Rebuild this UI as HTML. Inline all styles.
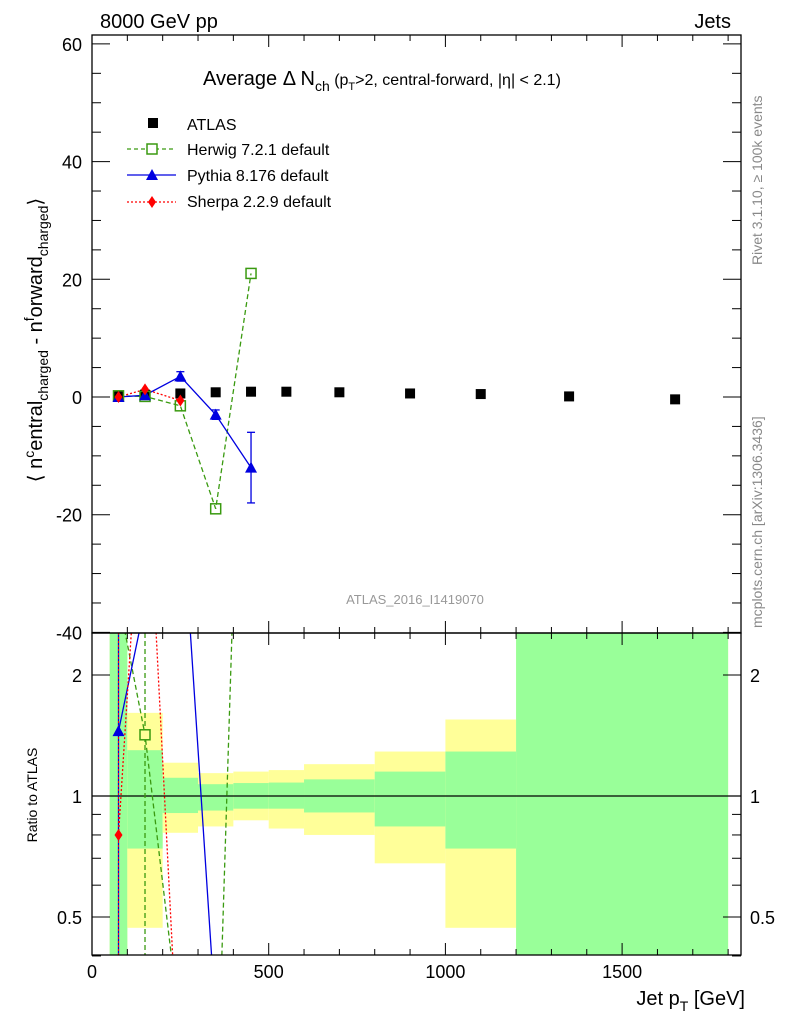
<!DOCTYPE html>
<html><head><meta charset="utf-8"><style>
html,body{margin:0;background:#fff;width:786px;height:1024px;overflow:hidden;}
svg{font-family:"Liberation Sans",sans-serif;display:block;}
</style></head><body>
<svg id="chart" width="786" height="1024" viewBox="0 0 786 1024">
<defs>
<clipPath id="cm"><rect x="92" y="35" width="649" height="598"/></clipPath>
<clipPath id="cr"><rect x="92" y="633" width="649" height="322"/></clipPath>
</defs>
<g id="bands" clip-path="url(#cr)"></g>
<g id="marks"></g>
<g id="axes"></g>
<text x="100" y="28" font-size="20">8000 GeV pp</text>
<text x="731" y="28" font-size="20" text-anchor="end">Jets</text>
<text x="203" y="85" font-size="20">Average Δ N<tspan font-size="14" dy="6">ch</tspan><tspan font-size="16" dy="-6"> (p</tspan><tspan font-size="11" dy="5">T</tspan><tspan font-size="16" dy="-5">&gt;2, central-forward, |η| &lt; 2.1)</tspan></text>
<g>
<rect x="148" y="118" width="10" height="10" fill="#000"/>
<text x="187" y="130" font-size="16">ATLAS</text>
<line x1="127" y1="149" x2="176" y2="149" stroke="#3a9a10" stroke-width="1.3" stroke-dasharray="4,3"/>
<rect x="147" y="144" width="10" height="10" fill="#fff" stroke="#3a9a10" stroke-width="1.5"/>
<text x="187" y="155" font-size="16">Herwig 7.2.1 default</text>
<line x1="127" y1="175" x2="176" y2="175" stroke="#0000e0" stroke-width="1.3"/>
<polygon points="152,169 158,180 146,180" fill="#0000e0"/>
<text x="187" y="181" font-size="16">Pythia 8.176 default</text>
<line x1="127" y1="202" x2="176" y2="202" stroke="#f00" stroke-width="1.3" stroke-dasharray="2,2"/>
<polygon points="152,196 156,202 152,208 148,202" fill="#f00"/>
<text x="187" y="207" font-size="16">Sherpa 2.2.9 default</text>
</g>
<text x="415" y="604" font-size="13" fill="#999" text-anchor="middle">ATLAS_2016_I1419070</text>
<text transform="translate(762,265) rotate(-90)" font-size="14" fill="#888">Rivet 3.1.10, ≥ 100k events</text>
<text transform="translate(762,628) rotate(-90)" font-size="14" fill="#888">mcplots.cern.ch [arXiv:1306.3436]</text>
<text transform="translate(42,340) rotate(-90)" font-size="20" text-anchor="middle">⟨ n<tspan font-size="14" dy="-8">c</tspan><tspan dy="8">entral</tspan><tspan font-size="14" dy="6">charged</tspan><tspan dy="-6"> - n</tspan><tspan font-size="14" dy="-8">f</tspan><tspan dy="8">orward</tspan><tspan font-size="14" dy="6">charged</tspan><tspan dy="-6">⟩</tspan></text>
<text transform="translate(37,795) rotate(-90)" font-size="14" text-anchor="middle">Ratio to ATLAS</text>
<text x="745" y="1005" font-size="20" text-anchor="end">Jet p<tspan font-size="14" dy="6">T</tspan><tspan dy="-6"> [GeV]</tspan></text>
</svg>
<script>
const binEdges=[50,100,200,300,400,500,600,800,1000,1200,1800];
const greenLo=[0.1,0.74,0.907,0.92,0.93,0.93,0.91,0.84,0.74,0.1];
const greenHi=[10,1.30,1.11,1.07,1.077,1.08,1.10,1.15,1.29,10];
const yellowLo=[0.1,0.47,0.81,0.84,0.87,0.83,0.80,0.68,0.47,0.1];
const yellowHi=[10,1.61,1.21,1.14,1.15,1.16,1.20,1.29,1.55,10];
const atlasX=[75,150,250,350,450,550,700,900,1100,1350,1650];
const atlasY=[0.2,0.4,0.6,0.8,0.9,0.9,0.8,0.6,0.5,0.1,-0.4];
const mcX=[75,150,250,350,450];
const herwigY=[0.2,0.1,-1.5,-19,21];
const pythiaY=[0,0.3,3.5,-3,-12];
const pythiaErr=[0,0.3,0.8,0.8,6];
const sherpaX=[75,150,250];
const sherpaY=[0,1.3,-0.6];
const herwigR=[3.1,1.42,0.26,0.13,83];
const pythiaR=[1.45,3.0,6.1,0.28,0.05];
const sherpaR=[0.8,8.8,0.17];
const xTicks=[0,500,1000,1500];
const yTicks=[-40,-20,0,20,40,60];
const rTicks=[0.5,1,2];

const X=v=>92+v*(176.7/500);
const Y=v=>397-v*(117.7/20);
const R=v=>796-Math.log2(v)*121;
const NS='http://www.w3.org/2000/svg';
function mk(p,t,a){const e=document.createElementNS(NS,t);for(const k in a)e.setAttribute(k,a[k]);p.appendChild(e);return e;}
const B=document.getElementById('bands'),M=document.getElementById('marks'),A=document.getElementById('axes');
for(let i=0;i<greenLo.length;i++){
 const x0=X(binEdges[i]),x1=X(binEdges[i+1]);
 const y=mk(B,'rect',{x:x0,y:R(yellowHi[i]),width:x1-x0,height:R(yellowLo[i])-R(yellowHi[i]),fill:'#ffff99'});
 
 
 const g=mk(B,'rect',{x:x0,y:R(greenHi[i]),width:x1-x0,height:R(greenLo[i])-R(greenHi[i]),fill:'#99ff99'});
 
 
}
mk(B,'line',{x1:92,x2:741,y1:R(1),y2:R(1),stroke:'#000','stroke-width':1.2});
const gm=mk(M,'g',{'clip-path':'url(#cm)'}),gr=mk(M,'g',{'clip-path':'url(#cr)'});
function line(p,xs,ys,f,col,dash){const pts=xs.map((x,i)=>X(x)+','+f(ys[i])).join(' ');const e=mk(p,'polyline',{points:pts,fill:'none',stroke:col,'stroke-width':1.3,'stroke-dasharray':dash});return e;}
let e;
e=line(gm,mcX,herwigY,Y,'#3a9a10','5,3');
e=line(gm,mcX,pythiaY,Y,'#0000e0','none');
e=line(gm,sherpaX,sherpaY,Y,'#f00','2,2');
e=line(gr,mcX,herwigR,R,'#3a9a10','5,3');
e=line(gr,mcX,pythiaR,R,'#0000e0','none');
e=line(gr,sherpaX,sherpaR,R,'#f00','2,2');
atlasX.forEach((x,i)=>{const r=mk(gm,'rect',{x:X(x)-5,y:Y(atlasY[i])-5,width:10,height:10,fill:'#000'});
 
 });
mcX.forEach((x,i)=>{const r=mk(gm,'rect',{x:X(x)-5,y:Y(herwigY[i])-5,width:10,height:10,fill:'none',stroke:'#3a9a10','stroke-width':1.5});
 
 
 const cx=X(x),cy=Y(pythiaY[i]);
 if(pythiaErr[i]>0.5){mk(gm,'line',{x1:cx,x2:cx,y1:Y(pythiaY[i]+pythiaErr[i]),y2:Y(pythiaY[i]-pythiaErr[i]),stroke:'#0000e0','stroke-width':1.3});
  mk(gm,'line',{x1:cx-4,x2:cx+4,y1:Y(pythiaY[i]+pythiaErr[i]),y2:Y(pythiaY[i]+pythiaErr[i]),stroke:'#0000e0','stroke-width':1.3});
  mk(gm,'line',{x1:cx-4,x2:cx+4,y1:Y(pythiaY[i]-pythiaErr[i]),y2:Y(pythiaY[i]-pythiaErr[i]),stroke:'#0000e0','stroke-width':1.3});}
 const p=mk(gm,'polygon',{points:`${cx},${cy-6} ${cx+6},${cy+5} ${cx-6},${cy+5}`,fill:'#0000e0'});
 
 });
sherpaX.forEach((x,i)=>{const cx=X(x),cy=Y(sherpaY[i]);
 const p=mk(gm,'polygon',{points:`${cx},${cy-6} ${cx+4},${cy} ${cx},${cy+6} ${cx-4},${cy}`,fill:'#f00'});
 
 });
// ratio markers
{const cx=X(mcX[1]),cy=R(herwigR[1]);mk(gr,'line',{x1:cx,x2:cx,y1:633,y2:955,stroke:'#3a9a10','stroke-width':1.3,'stroke-dasharray':'5,3'});mk(gr,'rect',{x:cx-5,y:cy-5,width:10,height:10,fill:'#ffff99',stroke:'#3a9a10','stroke-width':1.5});}
{const cx=X(mcX[0]),cy=R(pythiaR[0]);mk(gr,'line',{x1:cx,x2:cx,y1:633,y2:955,stroke:'#0000e0','stroke-width':1.3});mk(gr,'line',{x1:cx,x2:cx,y1:633,y2:955,stroke:'#f00','stroke-width':1,'stroke-dasharray':'2,2'});mk(gr,'polygon',{points:`${cx},${cy-6} ${cx+6},${cy+5} ${cx-6},${cy+5}`,fill:'#0000e0'});}
{const cx=X(sherpaX[0]),cy=R(sherpaR[0]);mk(gr,'polygon',{points:`${cx},${cy-6} ${cx+4},${cy} ${cx},${cy+6} ${cx-4},${cy}`,fill:'#f00'});}
// frames
mk(A,'rect',{x:92,y:35,width:649,height:598,fill:'none',stroke:'#000','stroke-width':1.3});
mk(A,'rect',{x:92,y:633,width:649,height:322,fill:'none',stroke:'#000','stroke-width':1.3});
for(let v=0;v<=1800;v+=100){const x=X(v),big=v%500===0;
 [[35,1],[633,1],[633,-1],[955,-1]].forEach(([y,d])=>mk(A,'line',{x1:x,x2:x,y1:y,y2:y+d*(big?12:6),stroke:'#000'}));}
xTicks.forEach(v=>{const t=mk(A,'text',{x:X(v),y:978,'font-size':18,'text-anchor':'middle'});t.textContent=v;
 
 });
for(let v=-40;v<=60;v+=5){const y=Y(v),big=v%20===0;
 mk(A,'line',{x1:92,x2:92+(big?18:9),y1:y,y2:y,stroke:'#000'});
 mk(A,'line',{x1:741,x2:741-(big?18:9),y1:y,y2:y,stroke:'#000'});}
yTicks.forEach(v=>{const t=mk(A,'text',{x:82,y:Y(v)+7,'font-size':18,'text-anchor':'end',fill:'#000'});t.textContent=v;
 
 });
[0.4,0.5,0.6,0.7,0.8,0.9,1,2].forEach(v=>{const y=R(v),big=(v===0.5||v===1||v===2);
 mk(A,'line',{x1:92,x2:92+(big?18:9),y1:y,y2:y,stroke:'#000'});
 mk(A,'line',{x1:741,x2:741-(big?18:9),y1:y,y2:y,stroke:'#000'});});
rTicks.forEach(v=>{[[82,'end'],[750,'start']].forEach(([x,a])=>{const t=mk(A,'text',{x:x,y:R(v)+7,'font-size':18,'text-anchor':a});t.textContent=v;
 
 });});
</script>
</body></html>
